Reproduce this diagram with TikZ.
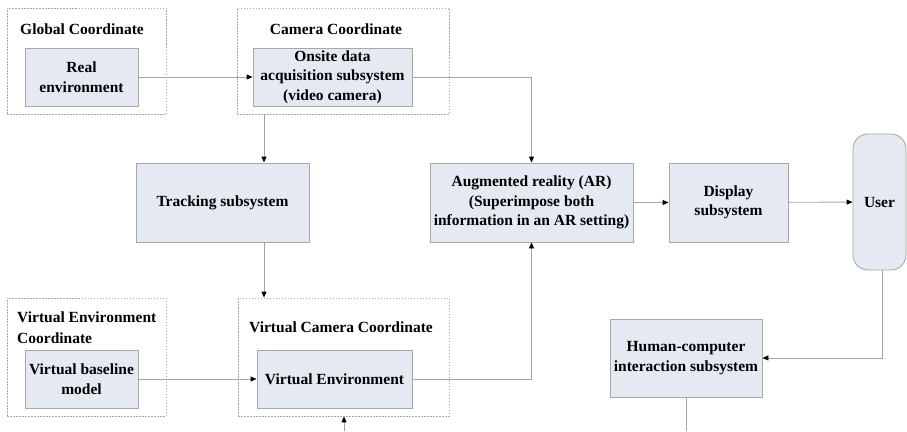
\documentclass[tikz,border=0pt]{standalone}
\usepackage{fontspec}
\setmainfont{Liberation Serif}[BoldFont={Liberation Serif Bold}]
\newfontfamily\labelfont{Liberation Serif Bold}
\usetikzlibrary{arrows.meta}
\definecolor{boxfill}{HTML}{E5EAF2}
\definecolor{boxline}{HTML}{A8A8A8}
\definecolor{wire}{HTML}{A4A4A4}
\tikzset{
  block/.style={draw=boxline, fill=boxfill, line width=0.9pt, inner sep=0pt,
    align=center, font=\labelfont\fontsize{15.5}{19.5}\selectfont},
  frame/.style={draw=boxline, line width=0.8pt, dash pattern=on 1.5pt off 1.5pt,
    inner sep=0pt},
  title/.style={inner sep=0pt, font=\labelfont\fontsize{15.5}{20.5}\selectfont},
  wireline/.style={draw=wire, line width=0.9pt},
  arr/.style={wireline, -{Triangle[length=6pt,width=5pt,color=black]}},
}
\begin{document}
\begin{tikzpicture}[x=1pt, y=-1pt]
\useasboundingbox (0,0) rectangle (907,431);

% coordinate frames
\node[frame, minimum width=159pt, minimum height=106pt] (globf) at (86.5,61) {};
\node[frame, minimum width=212pt, minimum height=106pt] (camf) at (343,61) {};
\node[frame, minimum width=159pt, minimum height=118pt] (venvf) at (86.5,357) {};
\node[frame, minimum width=211pt, minimum height=118pt] (vcamf) at (343.5,357) {};

% frame titles
\node[title] (globt) at (82,29) {Global Coordinate};
\node[title] (camt) at (336,29) {Camera Coordinate};
\node[title, align=left, anchor=west] (venvt) at (17,327.5) {Virtual Environment\\Coordinate};
\node[title] (vcamt) at (341,327) {Virtual Camera Coordinate};

% subsystem blocks
\node[block, minimum width=113pt, minimum height=58pt] (real) at (81.5,77) {Real\\environment};
\node[block, minimum width=159pt, minimum height=58pt] (onsite) at (332.5,77) {Onsite data\\acquisition subsystem\\(video camera)};
\node[block, minimum width=173pt, minimum height=79pt] (trk) at (222.5,202.5) {Tracking subsystem};
\node[block, minimum width=203pt, minimum height=79pt] (ar) at (531.5,202.5) {Augmented reality (AR)\\(Superimpose both\\information in an AR setting)};
\node[block, minimum width=119pt, minimum height=79pt] (disp) at (728.5,202.5) {Display\\subsystem};
\node[block, rounded corners=15pt, minimum width=53pt, minimum height=136pt] (user) at (879.5,202) {User};
\node[block, minimum width=152pt, minimum height=78pt] (hci) at (686,358) {Human-computer\\interaction subsystem};
\node[block, minimum width=113pt, minimum height=58pt] (base) at (81.5,379) {Virtual baseline\\model};
\node[block, minimum width=155pt, minimum height=58pt] (ve) at (334.5,379) {Virtual Environment};

% connectors
\draw[arr] (real) -- (onsite);
\draw[arr] (onsite.east) -| (ar.north);
\path ([xshift=41.5pt]trk.north) coordinate (t1);
\draw[arr] (camf.south -| t1) -- (t1);
\draw[arr] (trk.south -| t1) -- (vcamf.north -| t1);
\draw[arr] (ar) -- (disp);
\draw[arr] (disp) -- (user);
\draw[arr] (ve.east) -| (ar.south);
\draw[arr] (base) -- (ve);
\draw[arr] ([xshift=3pt]user.south) |- (hci.east);
\coordinate (hcib) at (686,431);
\draw[wireline] (hci.south) -- (hcib);
\coordinate (vcb) at (344,431);
\draw[arr] (vcb) -- (vcamf.south -| vcb);
\end{tikzpicture}
\end{document}
